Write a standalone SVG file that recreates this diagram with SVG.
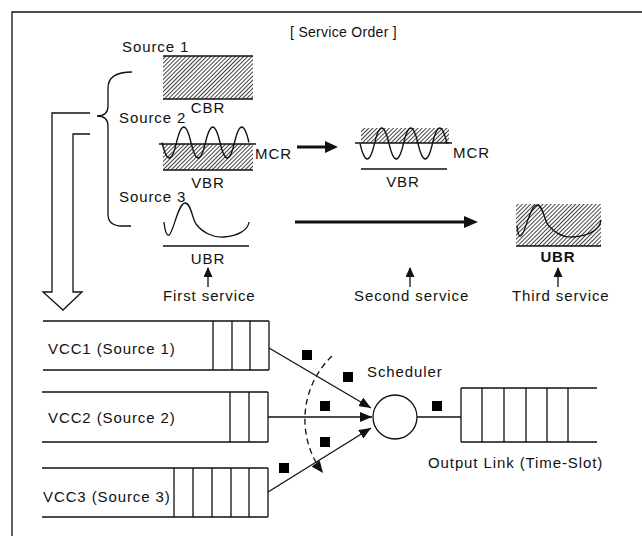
<svg xmlns="http://www.w3.org/2000/svg" width="642" height="536" viewBox="0 0 642 536">
  <defs>
    <pattern id="hatch" width="2.9" height="2.9" patternUnits="userSpaceOnUse" patternTransform="rotate(45)">
      <line x1="0.5" y1="0" x2="0.5" y2="2.9" stroke="#111" stroke-width="0.8"/>
    </pattern>
    <marker id="head" markerUnits="userSpaceOnUse" markerWidth="12" markerHeight="10" refX="12" refY="5" orient="auto">
      <path d="M0,0 L12,5 L0,10 z" fill="#111"/>
    </marker>
    <marker id="headSmall" markerUnits="userSpaceOnUse" markerWidth="10" markerHeight="9" refX="9" refY="4.5" orient="auto">
      <path d="M0,0 L10,4.5 L0,9 z" fill="#111"/>
    </marker>
  </defs>
  <style>
    text { font-family: "Liberation Sans", Arial, sans-serif; font-size: 15px; letter-spacing: 0.9px; fill: #111; }
    .title { font-size: 14px; letter-spacing: 0.3px; }
    .mid { text-anchor: middle; }
    .bold { font-weight: bold; }
    .ln { stroke: #111; stroke-width: 1.3; fill: none; }
    .thick { stroke: #111; stroke-width: 3; fill: none; }
    .hatch { fill: url(#hatch); stroke: none; }
    .pkt { fill: #000; }
  </style>

  <rect width="642" height="536" fill="#fff"/>
  <!-- frame (top and left edges) -->
  <path d="M12,536 L12,12 L642,12" class="ln" stroke-width="1.6"/>

  <text x="290" y="37" class="title">[ Service Order ]</text>

  <!-- traffic sources -->
  <g id="source1">
    <text x="122" y="52">Source 1</text>
    <rect x="163" y="56" width="90" height="43" class="hatch"/>
    <line x1="163" y1="56" x2="253" y2="56" class="ln"/>
    <line x1="163" y1="99" x2="253" y2="99" class="ln"/>
    <text x="208" y="113" class="mid">CBR</text>
  </g>

  <g id="source2">
    <text x="119" y="123">Source 2</text>
    <rect x="163" y="144" width="90" height="26" class="hatch"/>
    <line x1="159" y1="144" x2="256" y2="144" class="ln"/>
    <path d="M162,142.5 Q169.25,173.5 176.5,142.5 T191,142.5 T205.5,142.5 T220,142.5 T234.5,142.5 T249,142.5" class="ln"/>
    <line x1="163" y1="170" x2="253" y2="170" class="ln"/>
    <text x="255" y="159">MCR</text>
    <text x="208" y="188" class="mid">VBR</text>
  </g>

  <g id="source3">
    <text x="119" y="202">Source 3</text>
    <path d="M164,222 C165,232 167,236 169,235 C173,234 178,203 185,203 C191,203 192,218 196,224 C203,233 214,238 224,237 C238,236 248,230 249,222" class="ln"/>
    <line x1="163" y1="246" x2="249" y2="246" class="ln"/>
    <text x="208" y="264" class="mid">UBR</text>
  </g>

  <g id="brace">
    <path d="M132,72 Q108,72 108,88 L108,106 Q108,116 97,116 Q108,116 108,126 L108,214 Q108,226 122,226 L131,226" class="ln"/>
  </g>

  <g id="flow-arrow">
    <path d="M90,113 L52,113 L52,292 L43,292 L63,310 L82,292 L73,292 L73,134 L90,134" class="ln" fill="#fff"/>
  </g>

  <g id="vbr-served">
    <rect x="361" y="128" width="88" height="15" class="hatch"/>
    <line x1="355" y1="143" x2="452" y2="143" class="ln"/>
    <path d="M360,143.5 Q367.25,174.5 374.5,143.5 T389,143.5 T403.5,143.5 T418,143.5 T432.5,143.5 T447,143.5" class="ln"/>
    <line x1="361" y1="169" x2="447" y2="169" class="ln"/>
    <text x="453" y="158">MCR</text>
    <text x="403" y="187" class="mid">VBR</text>
  </g>

  <g id="ubr-served">
    <rect x="516" y="204" width="85" height="42" class="hatch"/>
    <path d="M517,226 C518,234 519,237 521,236 C525,234 530,205 537,205 C543,205 544,219 548,225 C555,233 563,238 573,237 C588,236 600,230 601,220" class="ln"/>
    <line x1="516" y1="246" x2="601" y2="246" class="ln"/>
    <text x="558" y="262" class="mid bold">UBR</text>
  </g>

  <g id="service-labels">
    <text x="163" y="301">First service</text>
    <text x="354" y="301">Second service</text>
    <text x="512" y="301">Third service</text>
  </g>

  <!-- queues -->
  <g id="vcc1">
    <path d="M43,321 L269,321 M43,370 L269,370 M213,321 V370 M232,321 V370 M250,321 V370 M269,321 V370" class="ln"/>
    <text x="48" y="354">VCC1 (Source 1)</text>
  </g>
  <g id="vcc2">
    <path d="M42,392 L268,392 M42,442 L268,442 M230,392 V442 M249,392 V442 M268,392 V442" class="ln"/>
    <text x="48" y="423">VCC2 (Source 2)</text>
  </g>
  <g id="vcc3">
    <path d="M42,468 L268,468 M42,517 L268,517 M174,468 V517 M193,468 V517 M212,468 V517 M231,468 V517 M249,468 V517 M268,468 V517" class="ln"/>
    <text x="43" y="502">VCC3 (Source 3)</text>
  </g>

  <g id="scheduler">
    <circle cx="395" cy="417" r="22" class="ln"/>
    <text x="367" y="377">Scheduler</text>
  </g>

  <g id="output-link">
    <path d="M461,388 L597,388 M461,442 L597,442 M461,388 V442 M482,388 V442 M504,388 V442 M526,388 V442 M547,388 V442 M568,388 V442" class="ln"/>
    <text x="428" y="468">Output Link (Time-Slot)</text>
  </g>

  <!-- connectors -->
  <g id="connectors">
    <line x1="297" y1="147" x2="327" y2="147" class="thick"/>
    <polygon points="325,141 338,147 325,153" fill="#111"/>
    <line x1="295" y1="222" x2="466" y2="222" class="thick"/>
    <polygon points="464,216 478,222 464,228" fill="#111"/>

    <line x1="208" y1="287" x2="208" y2="268" class="ln" marker-end="url(#headSmall)"/>
    <line x1="410" y1="287" x2="410" y2="268" class="ln" marker-end="url(#headSmall)"/>
    <line x1="558" y1="287" x2="558" y2="268" class="ln" marker-end="url(#headSmall)"/>

    <line x1="269" y1="348" x2="371" y2="408" class="ln" marker-end="url(#head)"/>
    <line x1="268" y1="417" x2="372" y2="417" class="ln" marker-end="url(#head)"/>
    <line x1="268" y1="492" x2="371" y2="428" class="ln" marker-end="url(#head)"/>
    <line x1="417" y1="417" x2="461" y2="417" class="ln"/>

    <path d="M332,356 A88,88 0 0 0 323,473" class="ln" stroke-dasharray="6,4" marker-end="url(#head)"/>
  </g>

  <g id="cells">
    <rect x="302" y="350" width="10" height="10" class="pkt"/>
    <rect x="343" y="372" width="10" height="10" class="pkt"/>
    <rect x="320" y="401" width="10" height="10" class="pkt"/>
    <rect x="320" y="437" width="10" height="10" class="pkt"/>
    <rect x="279" y="463" width="10" height="10" class="pkt"/>
    <rect x="432" y="401" width="10" height="10" class="pkt"/>
  </g>
</svg>
